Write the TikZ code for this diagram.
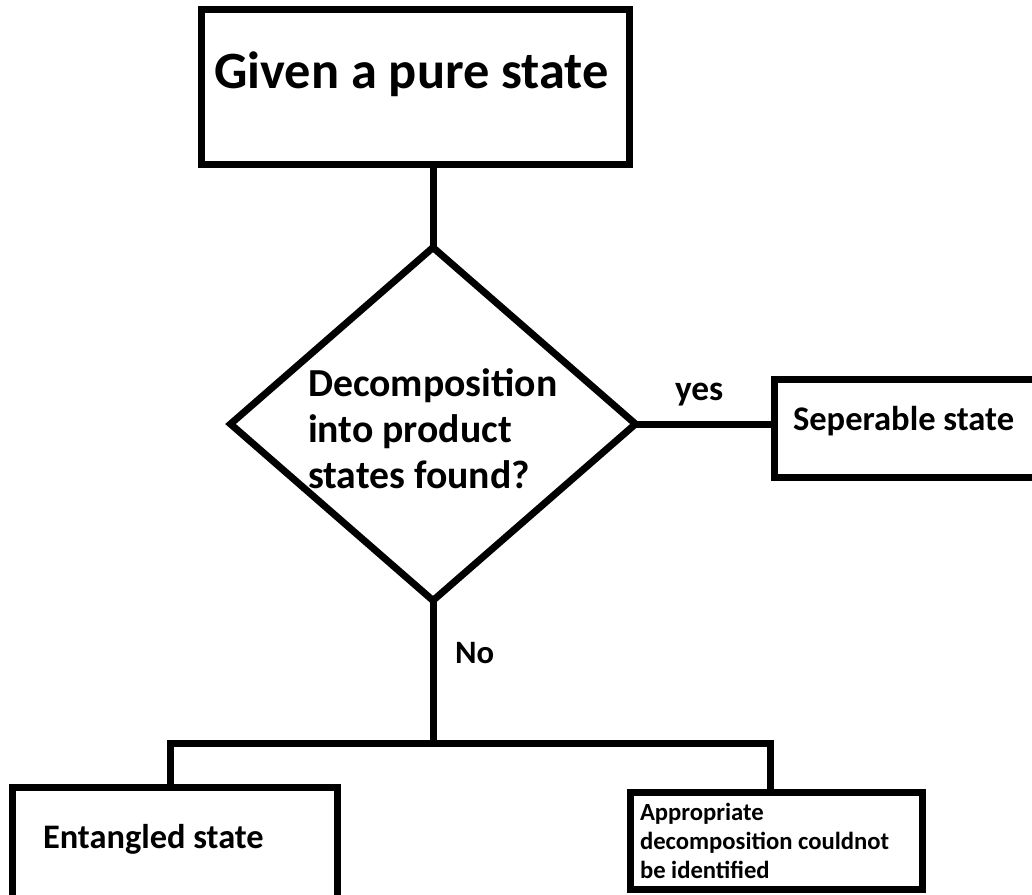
\documentclass[tikz,border=0pt]{standalone}
\usepackage{fontspec}
\setmainfont{Carlito}
\usetikzlibrary{shapes.geometric}
\tikzset{
  box/.style={draw=black, line width=5.25pt, rectangle, inner sep=0pt, outer sep=0pt, line join=miter},
  dia/.style={draw=black, line width=5.25pt, diamond, inner sep=0pt, outer sep=0pt, line join=miter},
  conn/.style={draw=black, line width=5.25pt, line join=miter},
  txt/.style={inner sep=0pt, outer sep=0pt, font=\bfseries},
}
\begin{document}
\begin{tikzpicture}[x=0.75pt,y=-0.75pt]
\useasboundingbox (0,0) rectangle (1032,894);
\clip (0,0) rectangle (1032,894);
\fill[white] (0,0) rectangle (1032,894);
% shapes
\node[box, minimum width=428*0.75pt, minimum height=155*0.75pt] (top) at (415,86.5) {};
\node[dia, minimum width=405*0.75pt, minimum height=353*0.75pt] (q) at (433,424) {};
\node[box, minimum width=266*0.75pt, minimum height=97.5*0.75pt] (sep) at (907,428.25) {};
\node[box, minimum width=325*0.75pt, minimum height=113*0.75pt] (ent) at (174.5,843.5) {};
\node[box, minimum width=292*0.75pt, minimum height=97*0.75pt] (app) at (776,840.5) {};
\coordinate (jl) at (170,743);
\coordinate (jr) at (770,743);
% connectors
\draw[conn] (top.south -| q.north) -- (q.north);
\draw[conn] (q.east) -- (q.east -| sep.west);
\draw[conn] (q.south) -- (q.south |- jl);
\draw[conn] (jl |- ent.north) -- (jl) -- (jr) -- (jr |- app.north);
% texts
\node[txt, anchor=base, font=\bfseries\fontsize{39.3}{46}\selectfont] (t1) at (411.5,88) {Given a pure state};
\node[txt, anchor=base west, align=left, font=\bfseries\fontsize{29.8}{34.5}\selectfont] (t2) at (308,488) {Decomposition\\into product\\states found?};
\node[txt, anchor=base west, font=\bfseries\fontsize{25.9}{30}\selectfont] (t3) at (793,430) {Seperable state};
\node[txt, anchor=base west, font=\bfseries\fontsize{26.5}{30}\selectfont] (t4) at (675,400) {yes};
\node[txt, anchor=base west, font=\bfseries\fontsize{24.5}{30}\selectfont] (t5) at (455,663) {No};
\node[txt, anchor=base west, font=\bfseries\fontsize{25.8}{30}\selectfont] (t6) at (43,848) {Entangled state};
\node[txt, anchor=base west, align=left, font=\bfseries\fontsize{18.5}{21.75}\selectfont] (t7) at (640,878) {Appropriate\\decomposition couldnot\\be identified};
\end{tikzpicture}
\end{document}
